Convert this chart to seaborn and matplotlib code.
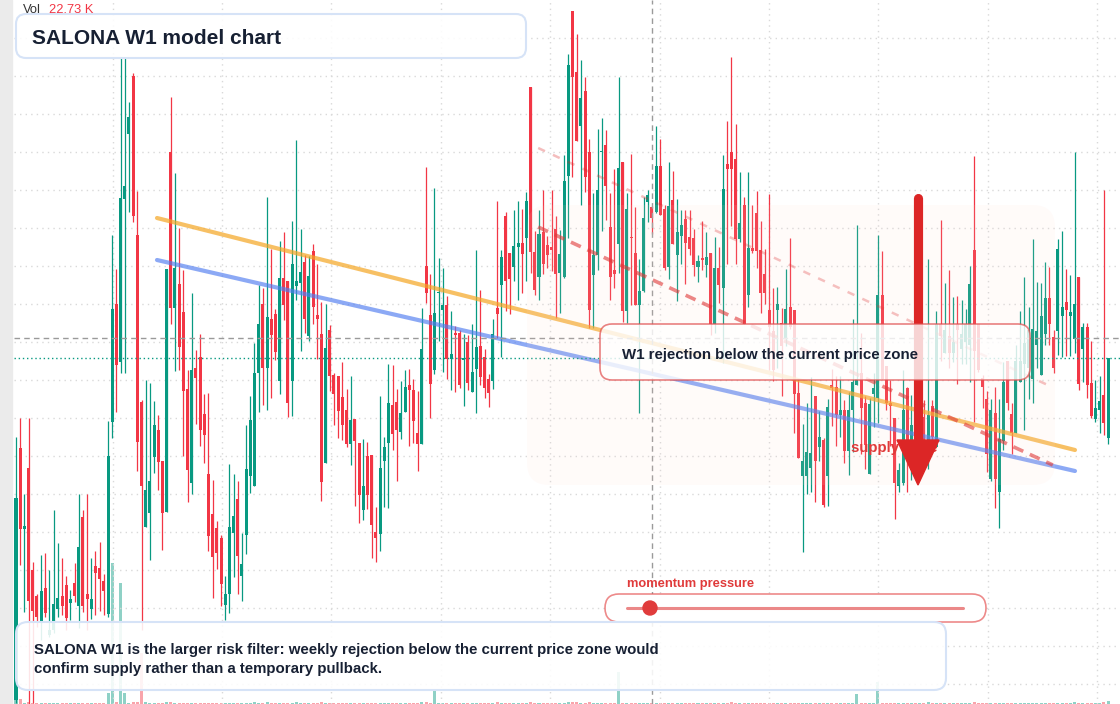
import numpy as np
import pandas as pd
import matplotlib
matplotlib.use("Agg")
import matplotlib.pyplot as plt
import seaborn as sns
from matplotlib.patches import FancyBboxPatch, Rectangle, Polygon, Circle
from matplotlib.lines import Line2D
from matplotlib.transforms import IdentityTransform

# weekly candles, price in ticks
opens = [4, 256, 175, 236, 134, 108, 82, 116, 69, 74, 95, 108, 119, 101, 121, 98, 187, 110, 95, 138,
         136, 123, 90, 282, 400, 342, 505, 570, 628, 469, 302, 177, 191, 247, 274, 243, 192, 552, 396, 420,
         392, 315, 221, 336, 347, 290, 230, 190, 176, 166, 99, 110, 171, 205, 128, 169, 228, 218, 331, 400,
         336, 385, 390, 323, 426, 423, 323, 418, 421, 442, 368, 453, 389, 370, 241, 374, 329, 328, 307, 294,
         260, 285, 261, 194, 248, 249, 172, 170, 243, 261, 299, 302, 272, 292, 319, 314, 271, 260, 438, 389,
         334, 411, 394, 399, 345, 371, 371, 344, 362, 312, 335, 358, 347, 325, 323, 396, 419, 488, 451, 437,
         457, 461, 466, 617, 452, 427, 472, 459, 457, 475, 431, 427, 528, 693, 632, 578, 613, 552, 429, 449,
         552, 559, 477, 434, 460, 542, 393, 467, 451, 399, 413, 502, 497, 492, 538, 495, 437, 504, 449, 468,
         485, 467, 466, 437, 446, 439, 451, 380, 436, 416, 540, 552, 545, 465, 499, 409, 456, 491, 454, 430,
         394, 373, 394, 381, 365, 397, 394, 311, 228, 228, 236, 308, 257, 264, 228, 319, 317, 289, 294, 253,
         294, 319, 331, 301, 230, 310, 306, 409, 338, 301, 286, 218, 221, 316, 234, 279, 244, 287, 248, 298,
         257, 380, 351, 368, 351, 380, 355, 362, 359, 454, 380, 326, 305, 225, 291, 212, 263, 343, 290, 271,
         322, 340, 336, 325, 359, 329, 370, 406, 367, 373, 388, 402, 388, 365, 427, 355, 377, 321, 285, 294,
         309, 266]
highs = [267, 286, 210, 286, 142, 110, 149, 151, 134, 194, 161, 146, 128, 114, 141, 210, 194, 210, 146, 153,
         162, 130, 283, 469, 435, 646, 646, 602, 631, 513, 304, 324, 321, 303, 289, 243, 435, 607, 531, 476,
         434, 334, 411, 354, 370, 310, 311, 224, 183, 169, 128, 240, 230, 223, 171, 279, 308, 361, 419, 416,
         507, 455, 395, 463, 472, 423, 483, 564, 475, 449, 448, 460, 440, 402, 400, 379, 331, 328, 342, 315,
         328, 285, 261, 265, 262, 249, 197, 308, 267, 340, 339, 315, 323, 334, 335, 325, 313, 396, 537, 430,
         516, 446, 436, 408, 393, 378, 374, 370, 369, 380, 454, 414, 355, 330, 385, 503, 454, 492, 451, 494,
         503, 495, 512, 617, 473, 494, 514, 468, 514, 488, 474, 549, 650, 693, 670, 644, 627, 565, 511, 575,
         586, 574, 511, 535, 627, 542, 511, 550, 497, 445, 507, 514, 498, 578, 565, 499, 542, 533, 505, 494,
         494, 494, 475, 449, 483, 472, 451, 467, 457, 549, 583, 647, 580, 532, 507, 532, 499, 513, 483, 455,
         510, 416, 417, 396, 435, 466, 394, 325, 280, 301, 327, 308, 293, 266, 305, 335, 328, 328, 304, 312,
         385, 479, 371, 308, 306, 331, 469, 453, 338, 324, 286, 241, 334, 317, 309, 294, 289, 304, 445, 304,
         393, 484, 421, 434, 407, 408, 404, 395, 438, 548, 380, 329, 313, 305, 317, 305, 342, 343, 301, 359,
         393, 427, 397, 465, 422, 421, 442, 437, 374, 465, 473, 435, 429, 552, 427, 381, 381, 363, 324, 328,
         514, 346]
lows = [1, 139, 92, 0, 1, 77, 64, 87, 67, 71, 87, 89, 74, 84, 102, 76, 92, 74, 85, 89,
        93, 89, 87, 266, 292, 331, 331, 492, 482, 233, 74, 177, 144, 231, 214, 154, 192, 380, 333, 334,
        248, 202, 210, 280, 258, 241, 153, 106, 135, 98, 84, 91, 127, 110, 103, 150, 211, 218, 292, 299,
        294, 306, 344, 310, 384, 287, 288, 404, 353, 371, 363, 380, 345, 203, 241, 313, 279, 266, 264, 257,
        239, 198, 181, 184, 195, 146, 142, 153, 197, 196, 254, 223, 265, 292, 258, 261, 233, 260, 401, 286,
        330, 363, 332, 325, 314, 312, 316, 298, 314, 312, 291, 319, 306, 297, 315, 366, 347, 393, 390, 423,
        404, 411, 423, 431, 409, 404, 430, 436, 433, 386, 391, 426, 466, 527, 563, 499, 512, 376, 376, 434,
        473, 484, 404, 416, 431, 382, 381, 399, 399, 291, 412, 482, 470, 491, 489, 434, 425, 460, 403, 440,
        420, 449, 428, 422, 434, 427, 369, 371, 401, 341, 440, 478, 440, 462, 380, 397, 451, 436, 391, 400,
        334, 323, 336, 308, 358, 375, 271, 246, 152, 210, 212, 202, 243, 197, 198, 278, 258, 267, 241, 229,
        252, 319, 250, 235, 230, 277, 281, 325, 294, 258, 185, 212, 219, 212, 224, 229, 234, 258, 235, 263,
        257, 343, 351, 336, 342, 320, 340, 340, 322, 282, 332, 296, 232, 223, 196, 176, 254, 294, 250, 271,
        322, 274, 305, 301, 336, 329, 359, 359, 331, 349, 347, 348, 348, 351, 314, 322, 306, 286, 282, 271,
        269, 260]
closes = [206, 175, 178, 103, 93, 87, 113, 91, 74, 100, 106, 98, 86, 105, 108, 157, 98, 105, 105, 131,
          125, 113, 248, 395, 339, 506, 518, 587, 488, 262, 218, 214, 223, 279, 242, 191, 435, 396, 436, 357,
          313, 234, 334, 326, 274, 269, 168, 147, 151, 120, 110, 177, 188, 148, 140, 235, 284, 331, 380, 336,
          387, 369, 352, 426, 399, 301, 440, 423, 432, 385, 428, 397, 385, 222, 356, 328, 310, 293, 279, 260,
          284, 263, 209, 218, 209, 179, 166, 236, 257, 301, 270, 274, 291, 317, 314, 283, 260, 355, 411, 320,
          391, 412, 399, 345, 350, 369, 319, 346, 321, 332, 357, 327, 316, 311, 370, 390, 447, 423, 425, 458,
          461, 450, 503, 452, 414, 470, 440, 449, 454, 430, 450, 523, 639, 627, 563, 606, 527, 394, 449, 514,
          553, 518, 427, 430, 536, 393, 495, 466, 399, 413, 486, 509, 486, 538, 489, 436, 498, 460, 472, 479,
          461, 455, 439, 443, 444, 447, 380, 436, 419, 515, 535, 535, 465, 481, 380, 456, 453, 453, 411, 411,
          377, 334, 400, 358, 395, 377, 310, 246, 243, 252, 251, 243, 267, 199, 297, 316, 289, 294, 253, 294,
          322, 325, 296, 259, 300, 316, 409, 325, 301, 298, 221, 234, 294, 248, 279, 244, 264, 258, 289, 267,
          380, 368, 374, 351, 362, 374, 370, 380, 420, 353, 334, 317, 250, 294, 225, 265, 322, 301, 271, 343,
          343, 361, 374, 375, 373, 388, 406, 380, 336, 455, 397, 394, 392, 400, 320, 377, 319, 288, 296, 303,
          281, 346]
# volume in K
volumes = [60, 35, 9, 12, 10, 8, 9, 7, 8, 10, 8, 7, 9, 7, 6, 10, 8, 9, 7, 6,
           8, 7, 78, 1000, 12, 860, 78, 10, 12, 14, 362, 12, 10, 8, 8, 9, 11, 12, 9, 8,
           9, 8, 9, 7, 8, 8, 10, 8, 7, 8, 6, 9, 8, 8, 7, 9, 10, 11, 9, 8,
           11, 8, 7, 9, 8, 9, 10, 11, 8, 8, 8, 8, 7, 11, 9, 6, 7, 6, 8, 6,
           8, 6, 8, 7, 8, 8, 6, 9, 8, 8, 6, 7, 6, 6, 7, 6, 7, 11, 12, 9,
           100, 8, 8, 8, 6, 7, 8, 6, 8, 7, 9, 8, 6, 7, 8, 11, 9, 10, 8, 8,
           8, 8, 8, 14, 8, 8, 8, 6, 8, 8, 8, 9, 12, 14, 11, 9, 9, 11, 8, 9,
           8, 8, 8, 8, 227, 9, 9, 8, 8, 8, 10, 6, 7, 8, 8, 6, 8, 8, 8, 6,
           7, 6, 7, 6, 7, 6, 8, 8, 6, 9, 10, 11, 9, 7, 9, 8, 6, 8, 8, 7,
           9, 8, 6, 8, 8, 8, 10, 8, 9, 8, 8, 9, 6, 8, 8, 6, 9, 7, 6, 7,
           8, 71, 8, 6, 8, 7, 156, 10, 8, 8, 10, 8, 8, 8, 8, 8, 8, 8, 11, 8,
           9, 10, 8, 8, 8, 8, 8, 8, 8, 11, 8, 6, 8, 8, 9, 10, 8, 8, 8, 8,
           8, 8, 8, 9, 8, 8, 8, 8, 6, 9, 10, 8, 8, 11, 9, 8, 8, 8, 7, 6,
           11, 22.73]

# overlay guides (candle index, price)
resistance_line = ([33.7, 253.1], [486, 254])
support_line = ([33.7, 253.1], [444, 233])
reject_line = ([124.8, 247.8], [477, 239])
upper_reject_line = ([124.8, 247.6], [556, 317])
crosshair_idx = 152.0
crosshair_price = 366
grid_x = [23.2, 49.3, 75.4, 101.5, 127.7, 153.8, 180.0, 206.1, 232.2, 258.4]
grid_y = list(range(20, 700, 38))

GREEN = "#089981"
RED = "#f23645"
W, H = 1120, 704

sns.set_theme(style="white")
plt.rcParams["font.family"] = ["Liberation Sans", "DejaVu Sans"]

fig = plt.figure(figsize=(W / 100, H / 100), dpi=100)
fig.patch.set_facecolor("white")
ax = fig.add_axes([14 / W, 0, 1 - 14 / W, 1])
ax_v = ax.twinx()
ax_v.set_zorder(ax.get_zorder() - 1)
ax.patch.set_visible(False)

n = len(opens)
idx = np.arange(n)
o, h, l, c = map(np.asarray, (opens, highs, lows, closes))
up = c >= o
cols = np.where(up, GREEN, RED)

# volume
ax_v.bar(idx, volumes, width=0.72, color=cols, alpha=0.45, linewidth=0)
ax_v.set_ylim(0, 5000)
ax_v.axis("off")

# candles
ax.vlines(idx, l, h, colors=cols, linewidth=0.9, zorder=3)
ax.bar(idx, np.maximum(np.abs(c - o), 1), bottom=np.minimum(o, c), width=0.72,
       color=cols, linewidth=0, zorder=4)

# guide lines
df_res = pd.DataFrame({"x": resistance_line[0], "y": resistance_line[1]})
df_sup = pd.DataFrame({"x": support_line[0], "y": support_line[1]})
sns.lineplot(data=df_res, x="x", y="y", ax=ax, color="#f5a623", alpha=0.7, lw=3, zorder=5)
sns.lineplot(data=df_sup, x="x", y="y", ax=ax, color="#4f7cf0", alpha=0.65, lw=3, zorder=5)
ax.plot(*reject_line, color="#dc2626", alpha=0.6, lw=2.6, dashes=(3, 2), zorder=5)
ax.plot(*upper_reject_line, color="#dc2626", alpha=0.3, lw=1.8, dashes=(3, 3.5), zorder=5)

ax.axvline(crosshair_idx, color="#9a9a9a", lw=1, dashes=(4, 3), zorder=6)
ax.axhline(crosshair_price, color="#9a9a9a", lw=1, dashes=(4, 3), zorder=6)
ax.axhline(closes[-1], color=GREEN, lw=1, dashes=(1, 2), zorder=6)

ax.set_xlim(-0.478, 263.86)
ax.set_ylim(0, 704)
ax.set_xticks(grid_x)
ax.set_yticks(grid_y)
ax.grid(True, color="#d9d9d9", linestyle=(0, (1, 3)), lw=1)
ax.tick_params(length=0, labelbottom=False, labelleft=False, labelright=False)
ax.set_xlabel("")
ax.set_ylabel("")
for s in ax.spines.values():
    s.set_visible(False)

ident = IdentityTransform()


def box(x0, y0, x1, y1, r, z, **kw):
    p = FancyBboxPatch((x0, H - y1), x1 - x0, y1 - y0,
                       boxstyle=f"round,pad=0,rounding_size={r}",
                       transform=ident, zorder=z, **kw)
    fig.add_artist(p)


def label(x, y, s, size, color, z, weight="bold"):
    fig.text(x / W, 1 - y / H, s, fontsize=size, fontweight=weight, color=color,
             ha="left", va="baseline", zorder=z)


# left strip
fig.add_artist(Rectangle((0, 0), 12, H, transform=ident, color="#ebebeb", zorder=1))

# supply zone
box(527, 205, 1055, 485, 22, 2, facecolor="#ffd9cc", alpha=0.1, edgecolor="none")
label(851, 452, "supply zone", 10.8, "#e03a3a", 3)

# arrow
fig.add_artist(Line2D([918, 918], [H - 198, H - 445], transform=ident, color="#dc2626",
                      lw=6.6, solid_capstyle="round", zorder=4))
fig.add_artist(Polygon([[897, H - 440], [939, H - 440], [918, H - 485]], closed=True,
                       transform=ident, color="#dc2626", zorder=4))

# rejection callout
box(600, 324, 1030, 380, 12, 5, facecolor=(1, 1, 1, 0.8), edgecolor=(0.88, 0.3, 0.3, 0.7), lw=1.2)
label(622, 359, "W1 rejection below the current price zone", 10.8, "#172033", 6)

# title
box(16, 14, 526, 58, 10, 5, facecolor=(1, 1, 1, 0.88), edgecolor="#d6e3f7", lw=1.5)
label(32, 43.5, "SALONA W1 model chart", 15, "#172033", 6)
label(23, 13, "Vol", 9.3, "#333333", 6, weight="normal")
label(49, 13, "22.73 K", 9.3, RED, 6, weight="normal")

# momentum slider
label(627, 587, "momentum pressure", 9.3, "#e03a3a", 6)
box(605, 594, 986, 622, 14, 5, facecolor="white", edgecolor=(0.9, 0.35, 0.35, 0.7), lw=1.2)
fig.add_artist(Line2D([627, 963], [H - 608, H - 608], transform=ident, color="#dc2626",
                      alpha=0.55, lw=2.2, zorder=6))
fig.add_artist(Circle((650, H - 608), 7, transform=ident, color="#e03c3c", zorder=7))

# note
box(16, 622, 946, 690, 12, 5, facecolor=(1, 1, 1, 0.88), edgecolor="#d6e3f7", lw=1.5)
label(34, 654, "SALONA W1 is the larger risk filter: weekly rejection below the current price zone would",
      10.8, "#172033", 6)
label(34, 673, "confirm supply rather than a temporary pullback.", 10.8, "#172033", 6)

fig.savefig("out.png", dpi=100)
